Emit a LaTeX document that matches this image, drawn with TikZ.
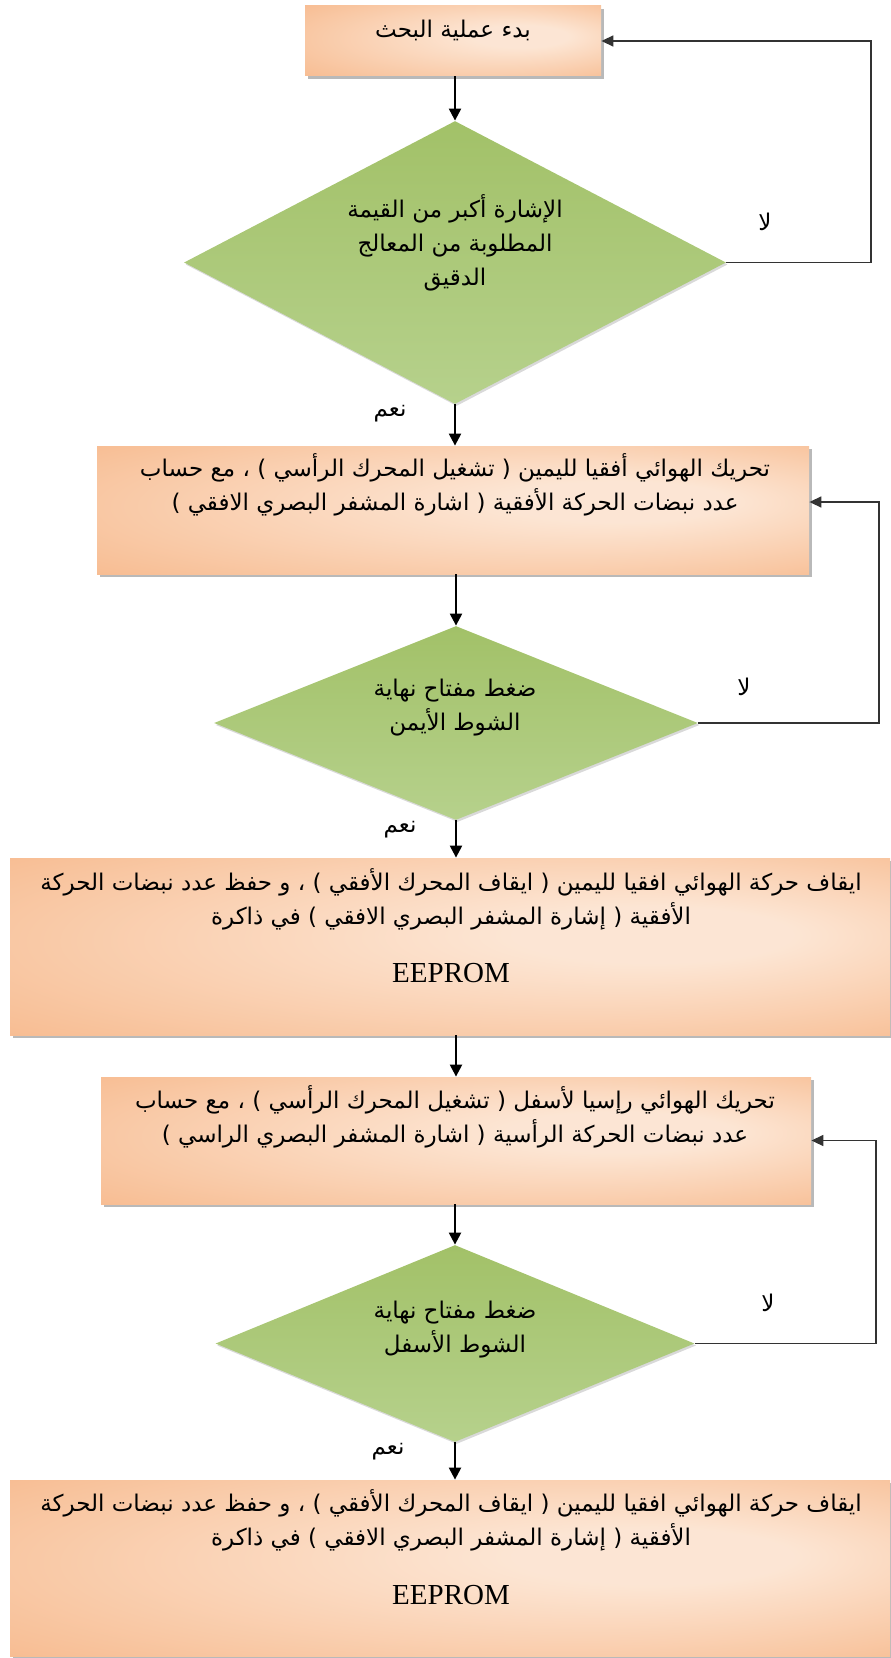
\documentclass[tikz,border=0pt]{standalone}
\usepackage{fontspec}
\setmainfont{Liberation Serif}
\newfontfamily\arabicfont[Script=Arabic]{DejaVu Sans}
\usetikzlibrary{shapes.geometric,arrows.meta,shadows}
\TeXXeTstate=1
\newcommand{\rtl}[1]{\beginR #1\endR}

\definecolor{loopgray}{HTML}{333333}
\definecolor{dtop}{HTML}{A2C168}
\definecolor{dmid}{HTML}{93B553}
\definecolor{dbot}{HTML}{B6D18C}
\pgfdeclareradialshading{boxshade}{\pgfpoint{14bp}{4bp}}{rgb(0bp)=(0.99,0.90,0.83); rgb(8bp)=(0.99,0.90,0.83); rgb(45bp)=(0.965,0.70,0.51)}

\tikzset{
  procbox/.style={rectangle, inner sep=0pt, shading=boxshade,
    drop shadow={shadow xshift=1.3pt, shadow yshift=-1.5pt, opacity=0.55}},
  decbox/.style={diamond, inner sep=0pt, top color=dtop, middle color=dmid, bottom color=dbot,
    drop shadow={shadow xshift=0.8pt, shadow yshift=-1pt, opacity=0.3}},
  artext/.style={font=\arabicfont\fontsize{11.5}{17}\selectfont, align=center, inner sep=0pt},
  latext/.style={font=\fontsize{14.5}{17}\selectfont, inner sep=0pt},
  flow/.style={line width=1.1pt, -{Triangle[length=6pt,width=6pt]}},
  back/.style={line width=0.75pt, draw=loopgray, -{Triangle[length=6pt,width=5.5pt]}}
}

\begin{document}
\begin{tikzpicture}[x=0.5pt,y=-0.5pt]
    \useasboundingbox (0,0) rectangle (890,1658);

    % shapes
    \node[procbox, minimum width=148pt, minimum height=35pt] (start) at (453,41) {};
    \node[decbox, minimum width=271pt, minimum height=141.5pt] (d1) at (455,262.5) {};
    \node[procbox, minimum width=356pt, minimum height=64pt] (moveh) at (453,510) {};
    \node[decbox, minimum width=242pt, minimum height=97pt] (d2) at (456,723) {};
    \node[procbox, minimum width=440pt, minimum height=88.5pt] (stoph) at (450,946.5) {};
    \node[procbox, minimum width=355pt, minimum height=63.5pt] (movev) at (456,1140.5) {};
    \node[decbox, minimum width=239.5pt, minimum height=98.5pt] (d3) at (455,1343.5) {};
    \node[procbox, minimum width=440pt, minimum height=88pt] (stopv) at (450,1568) {};

    % texts
    \node[artext] (tstart) at (453,30) {\rtl{بدء عملية البحث}};
    \node[artext] (td1) at (455,243) {\rtl{الإشارة أكبر من القيمة}\\\rtl{المطلوبة من المعالج}\\\rtl{الدقيق}};
    \node[artext] (tmoveh) at (455,485) {\rtl{تحريك الهوائي أفقيا لليمين ( تشغيل المحرك الرأسي ) ، مع حساب}\\\rtl{عدد نبضات الحركة الأفقية ( اشارة المشفر البصري الافقي )}};
    \node[artext] (td2) at (455,708) {\rtl{ضغط مفتاح نهاية}\\\rtl{الشوط الأيمن}};
    \node[artext] (tstoph) at (451,899) {\rtl{ايقاف حركة الهوائي افقيا لليمين ( ايقاف المحرك الأفقي ) ، و حفظ عدد نبضات الحركة}\\\rtl{الأفقية ( إشارة المشفر البصري الافقي ) في ذاكرة}};
    \node[latext] (estoph) at (451,973) {EEPROM};
    \node[artext] (tmovev) at (455,1117) {\rtl{تحريك الهوائي رإسيا لأسفل ( تشغيل المحرك الرأسي ) ، مع حساب}\\\rtl{عدد نبضات الحركة الرأسية ( اشارة المشفر البصري الراسي )}};
    \node[artext] (td3) at (455,1330) {\rtl{ضغط مفتاح نهاية}\\\rtl{الشوط الأسفل}};
    \node[artext] (tstopv) at (451,1520) {\rtl{ايقاف حركة الهوائي افقيا لليمين ( ايقاف المحرك الأفقي ) ، و حفظ عدد نبضات الحركة}\\\rtl{الأفقية ( إشارة المشفر البصري الافقي ) في ذاكرة}};
    \node[latext] (estopv) at (451,1595) {EEPROM};

    % yes / no labels
    \node[artext] (no1) at (765,222) {\rtl{لا}};
    \node[artext] (no2) at (744,687) {\rtl{لا}};
    \node[artext] (no3) at (768,1303) {\rtl{لا}};
    \node[artext] (yes1) at (390,414) {\rtl{نعم}};
    \node[artext] (yes2) at (400,830) {\rtl{نعم}};
    \node[artext] (yes3) at (388,1452) {\rtl{نعم}};

    % main flow
    \draw[flow] (start.south -| d1.north) -- (d1.north);
    \draw[flow] (d1.south) -- (d1.south |- moveh.north);
    \draw[flow] (moveh.south -| d2.north) -- (d2.north);
    \draw[flow] (d2.south) -- (d2.south |- stoph.north);
    \draw[flow] (stoph.south -| movev.north) -- (movev.north);
    \draw[flow] (movev.south -| d3.north) -- (d3.north);
    \draw[flow] (d3.south) -- (d3.south |- stopv.north);

    % loops back
    \coordinate (r1) at (871,262.5);
    \coordinate (r2) at (879,723);
    \coordinate (r3) at (876,1343.5);
    \draw[back] (d1.east) -- (r1) |- (start.east);
    \draw[back] (d2.east) -- (r2) |- ([yshift=4pt]moveh.east);
    \draw[back] (d3.east) -- (r3) |- (movev.east);

\end{tikzpicture}
\end{document}
